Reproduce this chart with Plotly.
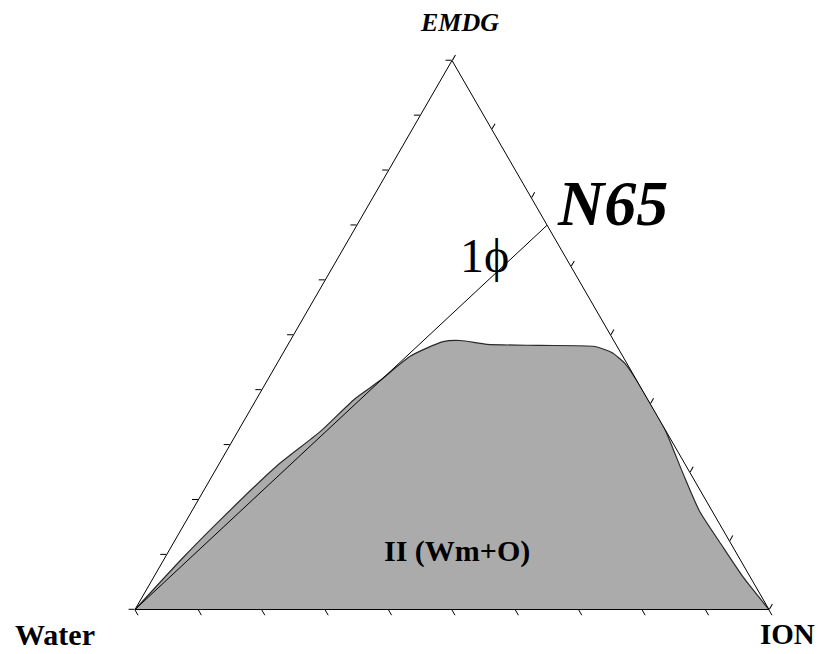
import plotly.graph_objects as go

# Two-phase region II (Wm+O): boundary in mass fractions
bnd_emdg = [0.000, 0.093, 0.166, 0.262, 0.324, 0.384, 0.417, 0.461, 0.488, 0.490,
            0.483, 0.481, 0.479, 0.468, 0.448, 0.417, 0.330, 0.293, 0.239, 0.179,
            0.117, 0.057, 0.000]
bnd_ion = [0.000, 0.028, 0.054, 0.093, 0.130, 0.155, 0.178, 0.203, 0.242, 0.268,
           0.314, 0.398, 0.486, 0.518, 0.549, 0.583, 0.670, 0.702, 0.748, 0.801,
           0.867, 0.932, 1.000]
bnd_water = [round(1 - a - c, 3) for a, c in zip(bnd_emdg, bnd_ion)]

# Dilution line: pure water -> N65 premix (EMDG/ION = 70/30)
dil_emdg = [0.0, 0.70]
dil_water = [1.0, 0.0]
dil_ion = [0.0, 0.30]

# Page and plot-area geometry (px)
W, H = 820, 654
L, R, T, B = 135, 51, 59, 43
PW, PH = W - L - R, H - T - B


def px(x, y):
    """Convert page pixels to paper coordinates."""
    return (x - L) / PW, 1 - (y - T) / PH


SERIF = "Liberation Serif"

fig = go.Figure()
fig.add_trace(go.Scatterternary(
    a=bnd_emdg, b=bnd_water, c=bnd_ion,
    mode="lines", fill="toself", fillcolor="#ababab",
    line=dict(color="#2a2a2a", width=1.2, shape="spline", smoothing=0.6),
    hoverinfo="skip", showlegend=False,
))
fig.add_trace(go.Scatterternary(
    a=dil_emdg, b=dil_water, c=dil_ion,
    mode="lines", line=dict(color="black", width=1),
    hoverinfo="skip", showlegend=False,
))


def axis(dtick):
    return dict(
        title=dict(text=""), showgrid=False, showticklabels=False,
        showline=True, linecolor="black", linewidth=1,
        ticks="outside", ticklen=6, tickwidth=1, tickcolor="black",
        tick0=0, dtick=dtick, min=0,
    )


labels = [
    ("EMDG", 459, 22, 26, "bold", "italic"),
    ("Water", 55, 634, 30, "bold", "normal"),
    ("ION", 787, 634, 29, "bold", "normal"),
    ("N65", 612, 204, 64, "bold", "italic"),
    ("1ϕ", 484, 256, 48, "normal", "normal"),
    ("II (Wm+O)", 457, 551, 30, "bold", "normal"),
]
annotations = []
for text, x, y, size, weight, style in labels:
    ax_, ay_ = px(x, y)
    annotations.append(dict(
        text=text, x=ax_, y=ay_, xref="paper", yref="paper",
        xanchor="center", yanchor="middle", showarrow=False,
        font=dict(family=SERIF, size=size, color="black", weight=weight, style=style),
    ))

fig.update_layout(
    width=W, height=H,
    margin=dict(l=L, r=R, t=T, b=B),
    paper_bgcolor="white",
    ternary=dict(
        sum=1, bgcolor="white",
        domain=dict(x=[0, 1], y=[0, 1]),
        aaxis=axis(0.1), baxis=axis(0.1), caxis=axis(0.125),
    ),
    annotations=annotations,
    showlegend=False,
)

fig.write_html("out.html")
